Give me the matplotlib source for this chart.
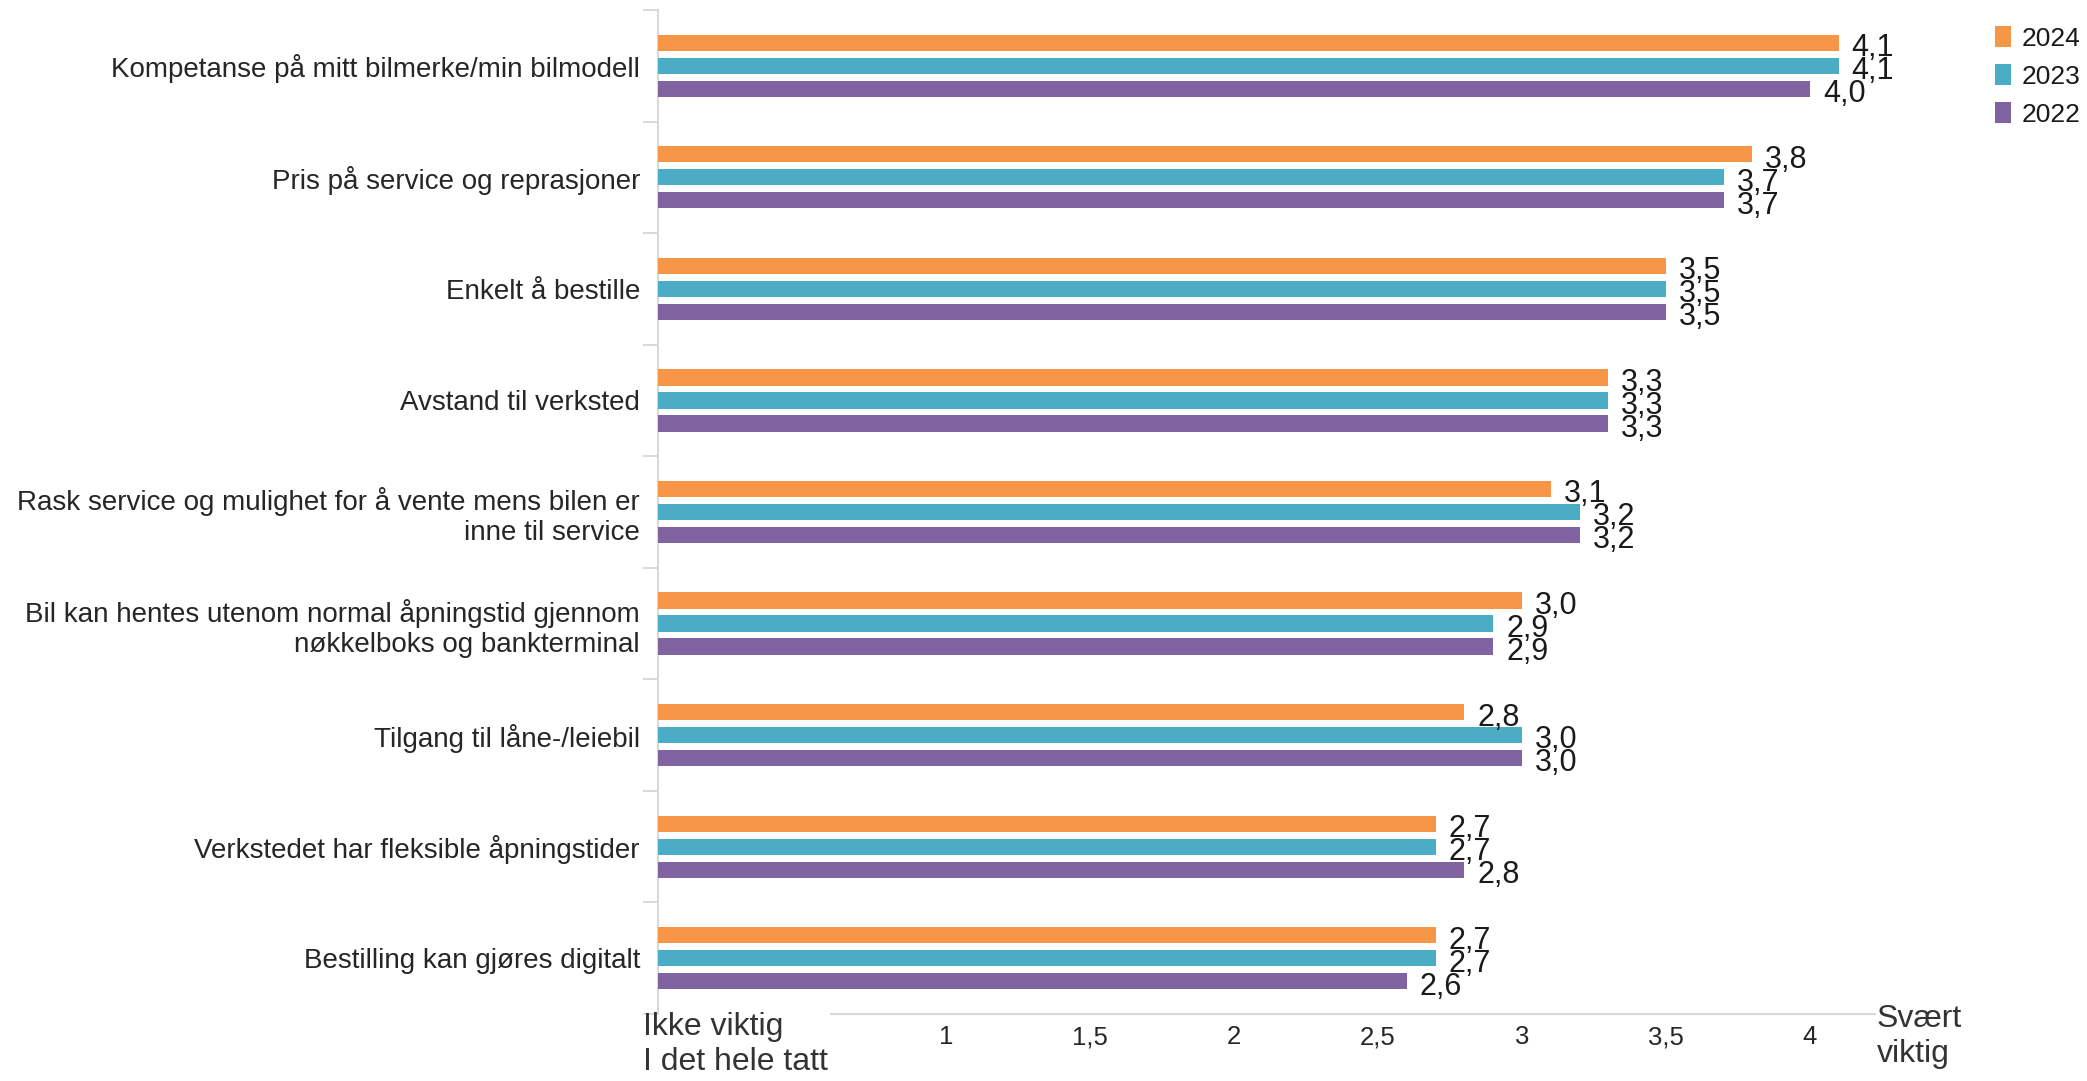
import numpy as np
import matplotlib
matplotlib.use('Agg')
import matplotlib.pyplot as plt
from matplotlib.patches import Patch

plt.rcParams['font.family'] = ['Liberation Sans', 'DejaVu Sans']

# Data (top to bottom)
categories = [
    "Kompetanse på mitt bilmerke/min bilmodell",
    "Pris på service og reprasjoner",
    "Enkelt å bestille",
    "Avstand til verksted",
    "Rask service og mulighet for å vente mens bilen er\ninne til service",
    "Bil kan hentes utenom normal åpningstid gjennom\nnøkkelboks og bankterminal",
    "Tilgang til låne-/leiebil",
    "Verkstedet har fleksible åpningstider",
    "Bestilling kan gjøres digitalt",
]
years = ["2024", "2023", "2022"]
v2024 = [4.1, 3.8, 3.5, 3.3, 3.1, 3.0, 2.8, 2.7, 2.7]
v2023 = [4.1, 3.7, 3.5, 3.3, 3.2, 2.9, 3.0, 2.7, 2.7]
v2022 = [4.0, 3.7, 3.5, 3.3, 3.2, 2.9, 3.0, 2.8, 2.6]
series = [v2024, v2023, v2022]
colors = ['#F79646', '#4BACC6', '#8064A2']
xticks = [1, 1.5, 2, 2.5, 3, 3.5, 4]

W, H = 2087, 1081
fig = plt.figure(figsize=(W / 100, H / 100), dpi=100)
ax = fig.add_axes([658 / W, 1 - 1014 / H, (1875 - 658) / W, (1014 - 10) / H])

y = np.arange(len(categories))
pitch = 0.206
bh = 0.145
for i, (vals, col) in enumerate(zip(series, colors)):
    yy = y + (i - 1) * pitch
    ax.barh(yy, vals, height=bh, color=col, edgecolor='none', zorder=3)
    # value labels, big enough that they overlap like in the original
    for yv, v in zip(yy, vals):
        ax.text(v + 0.045, yv + 0.12, f"{v:.1f}".replace('.', ','), va='baseline', ha='left',
                fontsize=22, color='#1a1a1a', clip_on=False, zorder=4)

ax.set_xlim(0, 4.226)
ax.set_ylim(len(categories) - 0.5, -0.5)

# y axis: labels at centres, small ticks at group borders
ax.set_yticks(y)
ax.set_yticklabels(categories, fontsize=20, color='#262626')
ax.set_yticks(np.arange(len(categories) + 1) - 0.5, minor=True)
ax.tick_params(axis='y', which='major', length=0, pad=13)
ax.tick_params(axis='y', which='minor', length=11, width=1.4, color='#d9d9d9', direction='out')

# x axis
ax.set_xticks(xticks)
ax.set_xticklabels([f"{t:g}".replace('.', ',') for t in xticks], fontsize=18.5, color='#262626')
ax.tick_params(axis='x', length=0, pad=8)

for s in ['top', 'right']:
    ax.spines[s].set_visible(False)
ax.spines['left'].set_color('#d9d9d9')
ax.spines['left'].set_linewidth(1.5)
ax.spines['bottom'].set_color('#d9d9d9')
ax.spines['bottom'].set_linewidth(1.5)
ax.spines['bottom'].set_bounds(0.6, 4.226)

# end labels of the scale
fig.text(643 / W, 1 - 1012 / H, "Ikke viktig\nI det hele tatt", ha='left', va='top',
         fontsize=23, color='#333333', linespacing=1.2)
fig.text(1877 / W, 1 - 1004 / H, "Svært\nviktig", ha='left', va='top',
         fontsize=23, color='#333333', linespacing=1.2)

handles = [Patch(facecolor=c, edgecolor='none') for c in colors]
fig.legend(handles, years, loc='upper left', bbox_to_anchor=(1995 / W, 1 - 26 / H),
           frameon=False, fontsize=19, handlelength=0.6, handleheight=0.87,
           handletextpad=0.42, labelspacing=0.5, borderpad=0, borderaxespad=0,
           labelcolor='#1a1a1a')

fig.savefig('out.png', dpi=100)
